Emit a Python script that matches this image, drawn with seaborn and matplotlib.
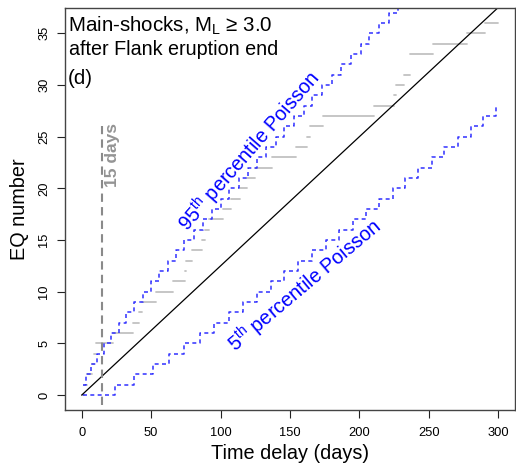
import numpy as np
import pandas as pd
import matplotlib
matplotlib.use("Agg")
import matplotlib.pyplot as plt
import seaborn as sns

# Day on which the cumulative main-shock count reaches 0, 1, 2, ...
event_days = [0, 1.5, 3.6, 7.2, 8.8, 10.2, 22.8, 37.2, 41.3, 43.2, 53.5,
              65.5, 74.6, 75.4, 79.2, 86.4, 89.0, 91.9, 101.8, 107.2, 114.0,
              119.0, 124.5, 136.8, 154.5, 162.5, 164.4, 173.5, 210.4, 225.0,
              226.0, 232.4, 236.2, 236.6, 252.6, 277.4, 290.4]
window_end = 300

# Expected count of a Poisson process with constant rate
rate_days = [0, 300]
rate_count = [0, 37.5]

# 95th percentile Poisson count: days where the count steps up, and the new count
p95_days = [1, 3, 7, 11, 16, 21, 27, 32, 38, 44, 50, 56, 62, 68, 74, 81, 87,
            94, 100, 106, 113, 120, 126, 133, 140, 146, 153, 160, 166, 173,
            180, 187, 194, 201, 207, 214, 221, 228]
p95_count = list(range(1, 39))

# 5th percentile Poisson count
p5_days = [1, 24, 38, 51, 63, 74, 85, 95, 106, 116, 126, 136, 146, 156, 166,
           176, 185, 195, 205, 214, 224, 233, 242, 252, 261, 271, 280, 289,
           298, 300]
p5_count = list(range(0, 29)) + [28]

marker_day = 15
x_ticks = [0, 50, 100, 150, 200, 250, 300]
y_ticks = [0, 5, 10, 15, 20, 25, 30, 35]

sns.set_style("ticks")
plt.rcParams["font.family"] = ["Liberation Sans", "DejaVu Sans"]
plt.rcParams["mathtext.fontset"] = "custom"
plt.rcParams["mathtext.rm"] = "Liberation Sans"
plt.rcParams["mathtext.it"] = "Liberation Sans:italic"
plt.rcParams["text.color"] = "black"
plt.rcParams["axes.labelcolor"] = "black"
plt.rcParams["xtick.color"] = "black"
plt.rcParams["ytick.color"] = "black"

W, H = 516, 469
fig = plt.figure(figsize=(W / 100, H / 100), dpi=100)
L, R, T, B = 65, 515, 8, 410
ax = fig.add_axes([L / W, 1 - B / H, (R - L) / W, (B - T) / H])

# Observed count: a horizontal segment at each level until the next event
ends = event_days[1:] + [window_end]
seg = pd.DataFrame({
    "day": [d for pair in zip(event_days, ends) for d in pair],
    "count": [k for k in range(len(event_days)) for _ in range(2)],
    "seg": [k for k in range(len(event_days)) for _ in range(2)],
})
sns.lineplot(data=seg, x="day", y="count", units="seg", estimator=None,
             sort=False, color="#c2c2c2", linewidth=1.3, ax=ax)

# Poisson percentiles
blue = "#3030ff"
sns.lineplot(x=p95_days, y=p95_count, drawstyle="steps-post", color=blue,
             linewidth=1.1, ax=ax).lines[-1].set_dashes([2.6, 2.2])
sns.lineplot(x=p5_days, y=p5_count, drawstyle="steps-post", color=blue,
             linewidth=1.1, ax=ax).lines[-1].set_dashes([2.6, 2.2])

# Mean-rate line
sns.lineplot(x=rate_days, y=rate_count, color="black", linewidth=0.9, ax=ax)

# 15-day marker
ax.plot([marker_day, marker_day], [-1, 26], color="#8a8a8a", linewidth=1.5,
        dashes=[4, 2.5])
ax.text(marker_day + 7.5, 23.2, f"{marker_day} days", rotation=90,
        color="#949494", fontsize=12.5, fontweight="bold",
        ha="center", va="center")

ax.text(121, 23.6, "95$^{\\mathrm{th}}$ percentile Poisson", rotation=49,
        rotation_mode="anchor", color="blue", fontsize=14.3,
        ha="center", va="center")
ax.text(161, 10.6, "5$^{\\mathrm{th}}$ percentile Poisson", rotation=40,
        rotation_mode="anchor", color="blue", fontsize=14.3,
        ha="center", va="center")

fig.text(68 / W, 1 - 32 / H, "Main-shocks, M$_\\mathrm{L}$ ≥ 3.0",
         fontsize=14.8, va="baseline", ha="left")
fig.text(69 / W, 1 - 55 / H, "after Flank eruption end",
         fontsize=14.2, va="baseline", ha="left")
fig.text(68 / W, 1 - 84 / H, "(d)", fontsize=14.8, va="baseline", ha="left")

ax.set_xlim(-12, 312)
ax.set_ylim(-1.44, 37.44)
ax.set_xticks(x_ticks)
ax.set_yticks(y_ticks)
ax.set_yticklabels([str(v) for v in y_ticks], rotation=90, va="center")
ax.tick_params(axis="both", length=5.5, width=0.8, color="#222222",
               labelsize=9.3, pad=7)
ax.tick_params(axis="y", pad=5)
for s in ax.spines.values():
    s.set_color("#444444")
    s.set_linewidth(1.0)
    s.set_visible(True)
ax.set_xlabel("Time delay (days)", fontsize=14.3, labelpad=3)
ax.set_ylabel("EQ number", fontsize=14.3, labelpad=7)

fig.savefig("out.png", dpi=100)
